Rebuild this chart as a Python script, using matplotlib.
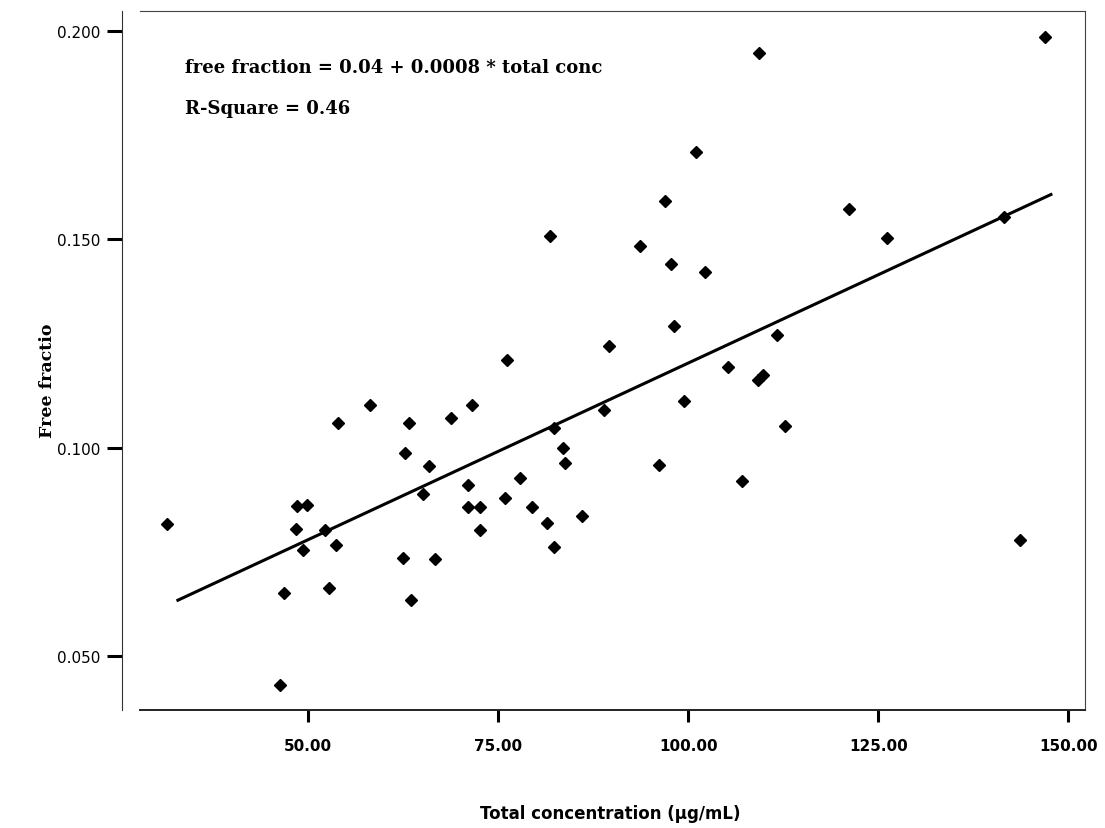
import matplotlib
matplotlib.use("Agg")
import matplotlib.pyplot as plt
import numpy as np

# Data
total_conc = [31.5, 46.3, 46.8, 48.4, 48.5, 49.9, 49.4, 52.2, 52.8, 53.7,
              53.9, 58.2, 62.5, 62.8, 63.3, 63.6, 65.1, 65.9, 66.7, 68.8,
              71.1, 71.1, 71.6, 72.6, 72.6, 75.9, 76.2, 77.9, 79.4, 81.5,
              81.8, 82.3, 82.3, 83.6, 83.8, 86.0, 88.9, 89.6, 93.7, 96.2,
              96.9, 97.7, 98.2, 99.4, 101.0, 102.2, 105.3, 107.1, 109.2, 109.9,
              111.7, 112.8, 121.2, 126.1, 141.6, 143.7, 146.9, 109.3]
free_frac = [0.0816, 0.0431, 0.0652, 0.0805, 0.0860, 0.0863, 0.0753, 0.0803, 0.0664, 0.0767,
             0.1058, 0.1102, 0.0735, 0.0988, 0.1058, 0.0634, 0.0888, 0.0956, 0.0732, 0.1071,
             0.0909, 0.0858, 0.1102, 0.0858, 0.0803, 0.0878, 0.1211, 0.0927, 0.0858, 0.0818,
             0.1509, 0.1048, 0.0761, 0.1000, 0.0962, 0.0835, 0.1091, 0.1243, 0.1483, 0.0958,
             0.1591, 0.1441, 0.1293, 0.1111, 0.1710, 0.1421, 0.1193, 0.0919, 0.1163, 0.1174,
             0.1271, 0.1052, 0.1573, 0.1503, 0.1553, 0.0777, 0.1986, 0.1946]

# fitted line as drawn in the figure
fit_range = [32.7, 147.9]
fit_start_end = [0.0632, 0.1609]

x_ticks = [50, 75, 100, 125, 150]
y_ticks = [0.050, 0.100, 0.150, 0.200]

W, H = 1105, 829
fig = plt.figure(figsize=(W / 100, H / 100), dpi=100)
ax = fig.add_axes([140 / W, 1 - 711 / H, (1085 - 140) / W, (711 - 12) / H])

ax.plot(total_conc, free_frac, linestyle="none", marker="D", markersize=6.3,
        color="black")
ax.plot(fit_range, fit_start_end, color="black", linewidth=2.2,
        solid_capstyle="butt")

ax.set_xlim(27.9, 152.2)
ax.set_ylim(0.0370, 0.2048)

ax.set_xticks(x_ticks)
ax.set_xticklabels([f"{v:.2f}" for v in x_ticks])
ax.set_yticks(y_ticks)
ax.set_yticklabels([f"{v:.3f}" for v in y_ticks])

# frame: left axis detached from the box
ax.spines["left"].set_position(("outward", 13))
ax.spines["left"].set_linewidth(0.8)
ax.spines["left"].set_color("#333333")
ax.spines["bottom"].set_linewidth(1.4)
ax.spines["bottom"].set_color("#222222")
for s in ["top", "right"]:
    ax.spines[s].set_linewidth(0.8)
    ax.spines[s].set_color("#444444")

ax.tick_params(axis="y", direction="out", length=10.5, width=2.2, pad=5,
               labelsize=11, colors="black")
ax.tick_params(axis="x", direction="out", length=8.5, width=2.2, pad=12,
               labelsize=11)
for lab in ax.get_xticklabels():
    lab.set_fontweight("bold")

ax.text(0.0476, 0.920, "free fraction = 0.04 + 0.0008 * total conc",
        transform=ax.transAxes, family="DejaVu Serif", fontweight="bold",
        fontsize=13, va="center", ha="left")
ax.text(0.0476, 0.861, "R-Square = 0.46",
        transform=ax.transAxes, family="DejaVu Serif", fontweight="bold",
        fontsize=13, va="center", ha="left")

fig.text(48 / W, 1 - 381 / H, "Free fractio", rotation=90,
         family="DejaVu Serif", fontweight="bold", fontsize=12.5,
         ha="center", va="center")
fig.text(610 / W, 1 - 814 / H, "Total concentration (µg/mL)",
         fontweight="bold", fontsize=12, ha="center", va="center")

fig.savefig("out.png", dpi=100)
